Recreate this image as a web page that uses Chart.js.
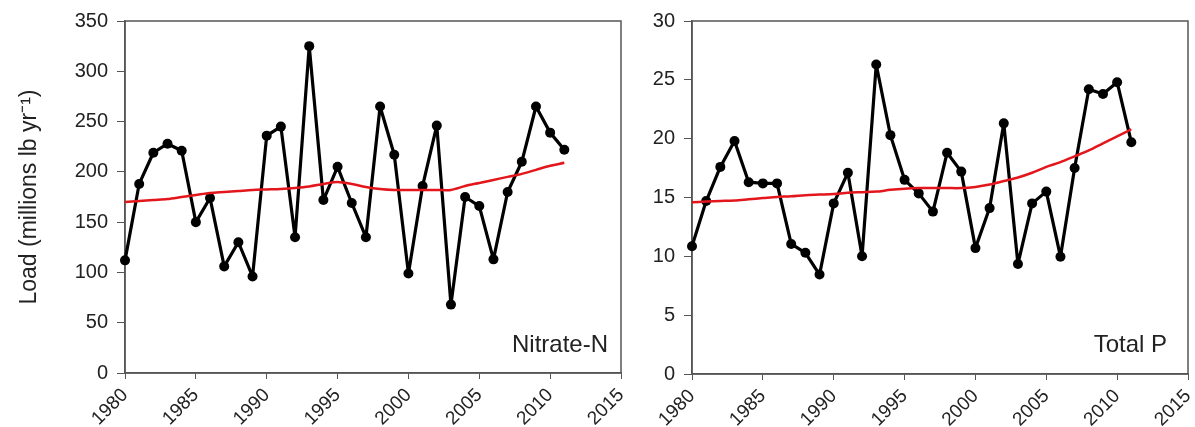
<!DOCTYPE html>
<html>
<head>
<meta charset="utf-8">
<script src="https://cdn.jsdelivr.net/npm/chart.js@4/dist/chart.umd.min.js"></script>
<style>
    html, body { margin: 0; padding: 0; background: #fff; }
    #wrap  { position: relative; width: 1195px; height: 427px; }
    .panel { position: absolute; top: 0; height: 427px; }
    #left  { left: 0;     width: 630px; }
    #right { left: 630px; width: 565px; }
</style>
</head>
<body>
<div id="wrap">
    <div class="panel" id="left"><canvas id="chart-nitrate"></canvas></div>
    <div class="panel" id="right"><canvas id="chart-totalp"></canvas></div>
</div>
<script>
const years = [1980, 1981, 1982, 1983, 1984, 1985, 1986, 1987, 1988, 1989,
               1990, 1991, 1992, 1993, 1994, 1995, 1996, 1997, 1998, 1999,
               2000, 2001, 2002, 2003, 2004, 2005, 2006, 2007, 2008, 2009,
               2010, 2011];

// Nitrate-N load, millions lb/yr
const nitrate = [112, 188, 219, 228, 221, 150, 174, 106, 130, 96,
                 236, 245, 135, 325, 172, 205, 169, 135, 265, 217,
                 99, 186, 246, 68, 175, 166, 113, 180, 210, 265,
                 239, 222];
const nitrateTrend = [170, 171, 172, 173, 175, 177, 179, 180, 181, 182,
                      182.5, 183, 184, 185.5, 188, 190, 188, 185, 183, 182,
                      182, 182, 182, 182, 186, 189, 192, 195, 198, 202,
                      206, 209];

// Total P load, millions lb/yr
const totalP = [10.85, 14.7, 17.6, 19.8, 16.3, 16.2, 16.2, 11.05, 10.3, 8.45,
                14.5, 17.1, 10.0, 26.3, 20.3, 16.5, 15.35, 13.8, 18.8, 17.2,
                10.7, 14.1, 21.3, 9.35, 14.5, 15.5, 9.97, 17.5, 24.2, 23.8,
                24.8, 19.7];
const totalPTrend = [14.6, 14.65, 14.7, 14.75, 14.85, 14.95, 15.05, 15.1, 15.2, 15.25,
                     15.3, 15.4, 15.45, 15.5, 15.65, 15.75, 15.8, 15.8, 15.8, 15.8,
                     15.9, 16.1, 16.4, 16.7, 17.1, 17.6, 18.0, 18.5, 19.0, 19.6,
                     20.2, 20.8];

const xTicks       = [1980, 1985, 1990, 1995, 2000, 2005, 2010, 2015];
const nitrateTicks = [0, 50, 100, 150, 200, 250, 300, 350];
const totalPTicks  = [0, 5, 10, 15, 20, 25, 30];

const FONT = '"Liberation Sans", Arial, sans-serif';
Chart.defaults.font.family = FONT;
Chart.defaults.color = '#222';

const AXIS = '#555';

// box round the plot area + the little panel label in the corner
const framePlugin = {
    id: 'frame',
    beforeDatasetsDraw(chart) {
        const { ctx, chartArea: a } = chart;
        ctx.save();
        ctx.strokeStyle = AXIS;
        ctx.lineWidth = 1.5;
        ctx.strokeRect(a.left, a.top, a.right - a.left, a.bottom - a.top);
        ctx.restore();
    },
    afterDraw(chart, args, opts) {
        if (!opts.text) return;
        const { ctx, chartArea: a } = chart;
        ctx.save();
        ctx.font = `24px ${FONT}`;
        ctx.fillStyle = '#222';
        ctx.textAlign = 'right';
        ctx.textBaseline = 'alphabetic';
        ctx.fillText(opts.text, a.right - opts.dx, a.bottom - opts.dy);
        ctx.restore();
    },
};

function pairs(ys) {
    return years.map((x, i) => ({ x, y: ys[i] }));
}

function makeChart(id, cfg) {
    const yt = cfg.yTicks;
    return new Chart(document.getElementById(id), {
        type: 'line',
        data: {
            datasets: [
                {
                    label: 'trend',
                    data: pairs(cfg.trend),
                    borderColor: '#e3161c',
                    borderWidth: 2.5,
                    pointRadius: 0,
                    tension: 0.3,
                    order: 0,
                    clip: false,
                },
                {
                    label: cfg.label,
                    data: pairs(cfg.values),
                    borderColor: '#000',
                    backgroundColor: '#000',
                    borderWidth: 3.2,
                    borderJoinStyle: 'round',
                    pointRadius: 5,
                    pointBorderWidth: 0,
                    tension: 0,
                    order: 1,
                    clip: false,
                },
            ],
        },
        options: {
            responsive: true,
            maintainAspectRatio: false,
            animation: false,
            layout: { padding: { top: cfg.padTop, right: cfg.padRight, left: 0, bottom: 0 } },
            plugins: {
                legend:  { display: false },
                tooltip: { enabled: false },
                frame:   { text: cfg.label, dx: cfg.labelDx, dy: cfg.labelDy },
            },
            scales: {
                x: {
                    type: 'linear',
                    min: xTicks[0],
                    max: xTicks[xTicks.length - 1],
                    afterBuildTicks: s => { s.ticks = xTicks.map(v => ({ value: v })); },
                    afterFit: s => { s.height = cfg.xHeight; s.paddingRight = 0; s.paddingLeft = 0; },
                    grid:   { drawOnChartArea: false, drawTicks: true, tickLength: 6, tickColor: AXIS },
                    border: { color: AXIS, width: 1.5 },
                    ticks:  {
                        font: { size: 19 },
                        color: '#222',
                        minRotation: 45,
                        maxRotation: 45,
                        padding: 5,
                        callback: v => String(v),
                    },
                },
                y: {
                    min: yt[0],
                    max: yt[yt.length - 1],
                    afterBuildTicks: s => { s.ticks = yt.map(v => ({ value: v })); },
                    afterFit: s => { s.width = cfg.yWidth; },
                    grid:   { drawOnChartArea: false, drawTicks: true, tickLength: 8, tickColor: AXIS },
                    border: { color: AXIS, width: 1.5 },
                    ticks:  { font: { size: 20 }, color: '#222', padding: 9 },
                    title:  cfg.yTitle
                        ? { display: true, text: cfg.yTitle, color: '#222', font: { size: 23 }, padding: { top: 16, bottom: 0 } }
                        : { display: false },
                },
            },
        },
        plugins: [framePlugin],
    });
}

makeChart('chart-nitrate', {
    label: 'Nitrate-N',
    values: nitrate,
    trend: nitrateTrend,
    yTicks: nitrateTicks,
    yTitle: 'Load (millions lb yr\u207B\u00B9)',
    yWidth: 125, xHeight: 54, padTop: 17, padRight: 9,
    labelDx: 13, labelDy: 21,
});

makeChart('chart-totalp', {
    label: 'Total P',
    values: totalP,
    trend: totalPTrend,
    yTicks: totalPTicks,
    yTitle: null,
    yWidth: 62, xHeight: 53, padTop: 19, padRight: 7,
    labelDx: 21, labelDy: 22,
});
</script>
</body>
</html>
